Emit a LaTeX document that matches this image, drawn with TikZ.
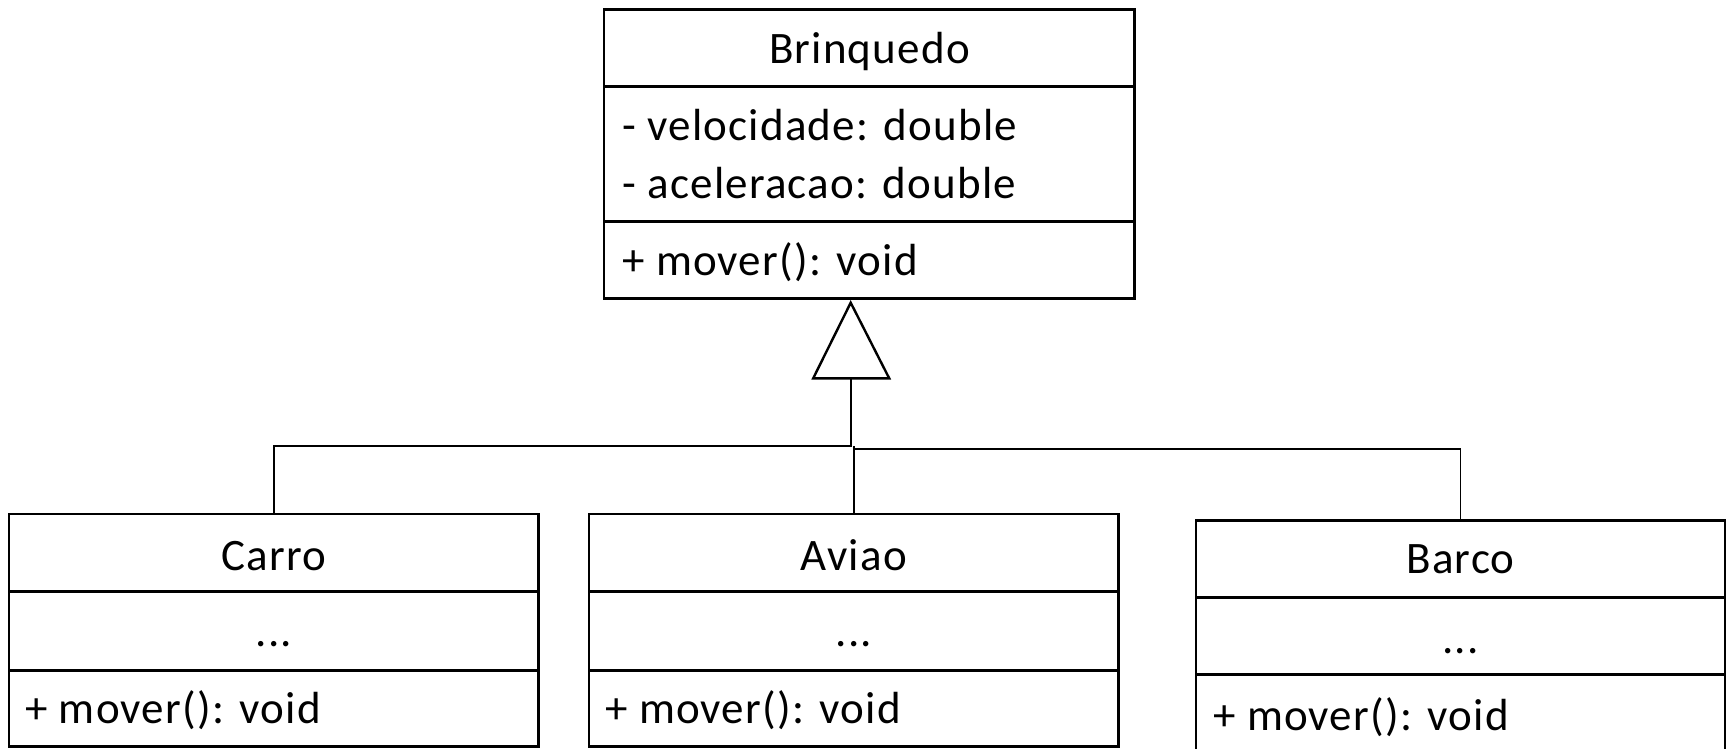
\documentclass[tikz,border=0pt]{standalone}
\usepackage{fontspec}
\setmainfont{Carlito}
\newfontfamily\umlfont[LetterSpace=2.7]{Carlito}
\usetikzlibrary{calc}
\begin{document}
\begin{tikzpicture}[x=1pt,y=-1pt,
  classbox/.style={draw, line width=2.6pt, inner sep=0pt, outer sep=0pt, anchor=north west},
  sepline/.style={line width=2.6pt},
  link/.style={line width=1.6pt},
  tri/.style={line width=2.4pt, line join=miter, fill=white},
  member/.style={inner sep=0pt, anchor=base west, font=\umlfont\fontsize{45}{52}\selectfont},
  cname/.style={member, anchor=base}]
\useasboundingbox (0,0) rectangle (1727,749);
\fill[white] (0,0) rectangle (1727,749);
\clip (0,0) rectangle (1727,749);

% superclass
\node[classbox, minimum width=530.8pt, minimum height=289pt] (brinq) at (603.8,9.3) {};
\draw[sepline] (603.8,86.5) -- (1134.6,86.5);
\draw[sepline] (603.8,221.5) -- (1134.6,221.5);
\node[cname] (brinqname) at (869.5,63.3) {Brinquedo};
\node[member] (brinqa1) at (622,141) {- velocidade: double};
\node[member] (brinqa2) at (622,198.3) {- aceleracao: double};
\node[member] (brinqop) at (622,275) {+ mover(): void};

% subclasses
\node[classbox, minimum width=529.6pt, minimum height=232.7pt] (carro) at (9,514) {};
\draw[sepline] (9,591.7) -- (538.6,591.7);
\draw[sepline] (9,670.5) -- (538.6,670.5);
\node[cname] (carroname) at (273.8,570) {Carro};
\node[cname] (carroattr) at (273.8,646.7) {...};
\node[member] (carroop) at (25,723.3) {+ mover(): void};

\node[classbox, minimum width=529.7pt, minimum height=232.7pt] (aviao) at (588.9,514) {};
\draw[sepline] (588.9,591.7) -- (1118.6,591.7);
\draw[sepline] (588.9,670.5) -- (1118.6,670.5);
\node[cname] (aviaoname) at (853.75,570) {Aviao};
\node[cname] (aviaoattr) at (853.75,646.7) {...};
\node[member] (aviaoop) at (605,723.3) {+ mover(): void};

\node[classbox, minimum width=529pt, minimum height=260pt] (barco) at (1196,520.5) {};
\draw[sepline] (1196,597.7) -- (1725,597.7);
\draw[sepline] (1196,674.3) -- (1725,674.3);
\node[cname] (barconame) at (1460.5,573.3) {Barco};
\node[cname] (barcoattr) at (1460.5,653.3) {...};
\node[member] (barcoop) at (1213,730) {+ mover(): void};

% generalization
\coordinate (apex) at (850.7,302.7);
\coordinate (tribase) at (850.7,378.3);
\coordinate (jl) at (850.7,446);
\coordinate (jr) at (853.6,449);
\draw[link] (tribase) -- (jl) -| (carro.north);
\draw[link] (jl -| aviao.north) -- (aviao.north);
\draw[link] (jr) -| (barco.north);
\draw[tri] (apex) -- ($(tribase)+(38.5,0)$) -- ($(tribase)+(-37.5,0)$) -- cycle;
\end{tikzpicture}
\end{document}
